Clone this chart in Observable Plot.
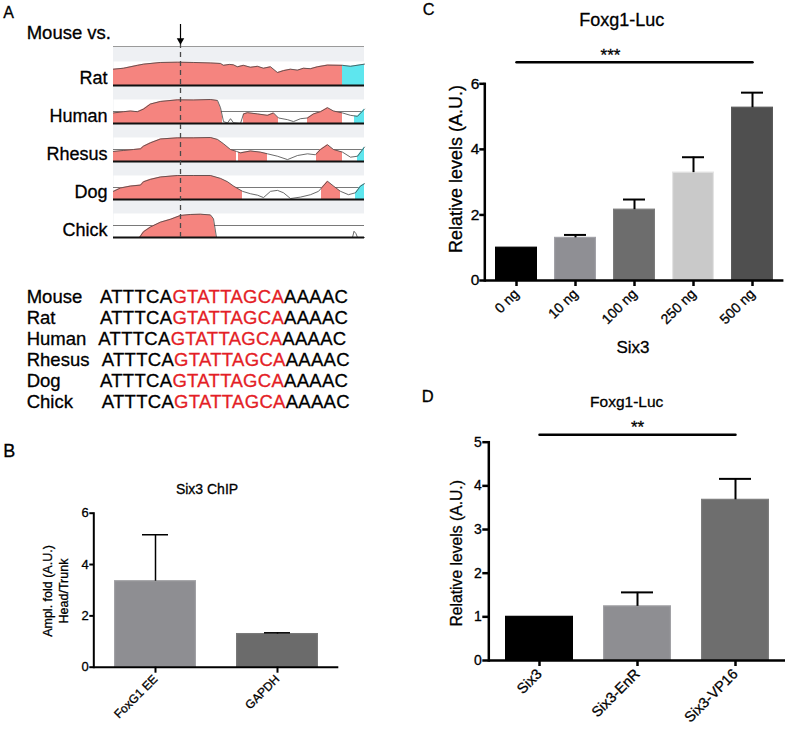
<!DOCTYPE html>
<html>
<head>
<meta charset="utf-8">
<script src="https://cdn.jsdelivr.net/npm/d3@7"></script>
<script src="https://cdn.jsdelivr.net/npm/@observablehq/plot@0.6"></script>
<style>
  body { margin: 0; background: #fff; }
  #root { position: relative; width: 793px; height: 734px; overflow: hidden; font-family: "Liberation Sans", Arial, sans-serif; }
  .abs { position: absolute; }
  .abs svg { overflow: visible; }
  #root svg text { stroke: black; stroke-width: 0.3px; }
  #root svg tspan.red { stroke: #e41e26; }
</style>
</head>
<body>
<div id="root"></div>
<script>
// ---------------- DATA ----------------
// Panel A: conservation profiles (position along region, % identity 50–100)
const trackSpecies = ["Rat", "Human", "Rhesus", "Dog", "Chick"];
const ratProfile = [[0,84],[10,86],[24,92],[30,94.5],[47,98],[64,98.6],[80,98],[97,97],[107,96],[110,92],[116,94],[120,93],[124,89],[130,92],[137,88],[144,90],[150,86],[157,89],[164,77],[170,81],[177,84],[184,82],[190,86],[197,85],[204,89],[214,92.5],[229,92],[237,90],[251,94.5]];
const humanProfile = [[0,72],[10,74.6],[17,76],[24,74.6],[30,80],[37,90.6],[47,96],[64,99.3],[80,99],[97,100],[104,98],[107,83],[110,54],[114,51],[117,60],[120,51.5],[127,50],[130,70],[134,72.5],[144,70],[154,67],[160,72],[165,61.5],[174,58],[180,54],[187,60],[194,61.5],[200,70],[207,74.6],[214,83],[220,76],[229,72],[237,67],[244,65],[251,80]];
const rhesusProfile = [[0,71],[10,73],[20,75],[27,76.4],[30,82],[37,89],[47,97],[64,99.3],[80,99.3],[97,100],[104,96],[110,87],[117,75],[123,71],[127,68],[137,72],[147,69.5],[154,66],[164,61],[174,54],[184,62.5],[194,66],[202,64],[207,75],[214,85],[220,75],[229,69.5],[237,59],[244,61],[251,80]];
const dogProfile = [[0,67],[7,74],[17,78],[27,80],[30,87],[37,92],[47,97],[64,100],[80,100],[97,100],[107,94],[114,87],[120,78],[129,67],[137,62],[144,59],[150,54],[157,67],[164,69],[170,64],[177,52],[187,55],[197,60],[205,67],[214,88],[220,78],[227,67],[235,60],[242,64],[247,78],[251,83]];
const chickProfile = [[0,50],[26,50],[30,62],[37,72],[47,82],[57,88],[67,96],[77,98],[87,98.6],[97,97],[100,89],[103,50],[239,50],[240.5,63],[242.5,58],[244,50],[251,50]];
// conserved segments: [species, kind, start, end]
const conservedSegments = [
  ["Rat","CNS",0,229],["Rat","UTR",229,251],
  ["Human","CNS",0,109],["Human","CNS",130,165],["Human","CNS",194,229],["Human","UTR",241,251],
  ["Rhesus","CNS",0,123],["Rhesus","CNS",125,154],["Rhesus","CNS",203,229],["Rhesus","UTR",244,251],
  ["Dog","CNS",0,129],["Dog","CNS",208,227],["Dog","UTR",242,251],
  ["Chick","CNS",26,103]
];
const bindingSitePos = 67;

// Panel A: alignment
const alignSpecies = ["Mouse", "Rat", "Human", "Rhesus", "Dog", "Chick"];
const seqLeft = "ATTTCA";
const seqCore = "GTATTAGCA";
const seqRight = "AAAAC";

// Panel B: Six3 ChIP
const chipTargets = ["FoxG1 EE", "GAPDH"];
const chipMean = [3.35, 1.29];
const chipErr = [1.81, 0.05];

// Panel C: dose response
const doseLabels = ["0 ng", "10 ng", "100 ng", "250 ng", "500 ng"];
const doseMean = [1.0, 1.30, 2.16, 3.29, 5.27];
const doseErr = [0, 0.09, 0.31, 0.47, 0.46];

// Panel D: constructs
const constructLabels = ["Six3", "Six3-EnR", "Six3-VP16"];
const constructMean = [1.0, 1.24, 3.68];
const constructErr = [0, 0.32, 0.48];

// ---------------- STYLE ----------------
const FONT = "Liberation Sans, Arial, Helvetica, sans-serif";
const PINK = "#f5847f", CYAN = "#5ee6ee", GREYBAND = "#eef0f3";
const chipColors = ["#8e8e92", "#6b6b6b"];
const doseColors = ["#000000", "#8f8f94", "#6d6d6d", "#c9c9c9", "#4f4f4f"];
const constructColors = ["#000000", "#8e8e92", "#6e6e6e"];

const root = document.getElementById("root");
function place(node, left, top) {
  const d = document.createElement("div");
  d.className = "abs";
  d.style.left = left + "px";
  d.style.top = top + "px";
  d.appendChild(node);
  root.appendChild(d);
  return d;
}
const baseStyle = {fontFamily: FONT, color: "black", background: "transparent", overflow: "visible"};

// ---------------- PANEL A tracks ----------------
const profiles = {Rat: ratProfile, Human: humanProfile, Rhesus: rhesusProfile, Dog: dogProfile, Chick: chickProfile};
const profileRows = trackSpecies.flatMap(s => profiles[s].map(([pos, val]) => ({species: s, pos, val})));
function interp(p, x) {
  for (let i = 1; i < p.length; i++) {
    const [x0, y0] = p[i - 1], [x1, y1] = p[i];
    if (x >= x0 && x <= x1) return x1 === x0 ? y1 : y0 + (y1 - y0) * (x - x0) / (x1 - x0);
  }
  return p[p.length - 1][1];
}
const fillRows = conservedSegments.flatMap(([s, kind, a, b], k) => {
  const p = profiles[s];
  const pts = [[a, interp(p, a)], ...p.filter(([x]) => x > a && x < b), [b, interp(p, b)]];
  return pts.map(([pos, val]) => ({species: s, kind, seg: k, pos, val}));
});

// grey background bands
const bg = document.createElement("div");
bg.className = "abs";
Object.assign(bg.style, {left: "113px", top: "46px", width: "251px", height: "192px", background: GREYBAND, borderTop: "1px solid #9a9a9a", boxSizing: "border-box"});
root.appendChild(bg);

const trackPlot = Plot.plot({
  width: 365, height: 192.5,
  marginLeft: 113, marginRight: 1, marginTop: 14, marginBottom: 1,
  x: {domain: [0, 251], axis: null},
  y: {domain: [50, 100], axis: null},
  fy: {domain: trackSpecies, paddingInner: 0.365, paddingOuter: 0},
  color: {domain: ["CNS", "UTR"], range: [PINK, CYAN]},
  style: baseStyle,
  marks: [
    Plot.frame({fill: "white", stroke: "none"}),
    Plot.ruleY([75], {stroke: "#6a6a6a", strokeWidth: 0.9}),
    Plot.area(fillRows, {x1: "pos", y1: 50, y2: "val", z: "seg", fill: "kind", fy: "species"}),
    Plot.line(profileRows, {x: "pos", y: "val", fy: "species", stroke: "#444", strokeWidth: 0.8}),
    Plot.ruleY([50], {stroke: "#111", strokeWidth: 2}),
    Plot.axisFy({anchor: "left", tickSize: 0, tickPadding: 6, fontSize: 18, dy: 5, label: null, fill: "black"})
  ]
});
place(trackPlot, 0, 46);

// dashed line through tracks
const dashPlot = Plot.plot({
  width: 365, height: 195.5,
  marginLeft: 113, marginRight: 1, marginTop: 0, marginBottom: 1,
  x: {domain: [0, 251], axis: null},
  style: baseStyle,
  marks: [Plot.ruleX([bindingSitePos], {stroke: "#4a4a4a", strokeWidth: 1.3, strokeDasharray: "5,4"})]
});
place(dashPlot, 0, 43);

// arrow
const arrowPlot = Plot.plot({
  width: 365, height: 19,
  marginLeft: 113, marginRight: 1, marginTop: 0, marginBottom: 0,
  x: {domain: [0, 251], axis: null},
  style: baseStyle,
  marks: [
    Plot.ruleX([bindingSitePos], {stroke: "black", strokeWidth: 1.2}),
    Plot.dot([bindingSitePos], {x: d => d, frameAnchor: "bottom", symbol: "triangle", rotate: 180, r: 2.8, fill: "black", stroke: "none", dy: -3})
  ]
});
place(arrowPlot, 0, 24);

// ---------------- Bar charts ----------------
function barChart(o) {
  const rows = o.labels.map((l, i) => ({label: l, mean: o.means[i], err: o.errs[i], color: o.colors[i], edge: d3.color(o.colors[i]).brighter(0.35).formatHex()}));
  const withErr = rows.filter(r => r.err > 0);
  return Plot.plot({
    width: o.width, height: o.height,
    marginLeft: o.ml, marginRight: o.mr, marginTop: o.mt, marginBottom: o.mb,
    x: {domain: o.labels, paddingInner: o.padIn, paddingOuter: o.padOut},
    y: {domain: o.yDomain},
    color: {type: "identity"},
    style: baseStyle,
    marks: [
      Plot.barY(rows, {x: "label", y: "mean", fill: "color", stroke: "edge", strokeWidth: 1.2, insetLeft: 0.6, insetRight: 0.6}),
      Plot.ruleX(withErr, {x: "label", y1: "mean", y2: d => d.mean + d.err, stroke: "black", strokeWidth: o.errW}),
      Plot.tickY(withErr, {x: "label", y: d => d.mean + d.err, stroke: "black", strokeWidth: o.errW, insetLeft: o.capInset, insetRight: o.capInset}),
      Plot.ruleY([0], {stroke: "black", strokeWidth: o.axisW}),
      Plot.frame({anchor: "left", stroke: "black", strokeWidth: o.axisW}),
      Plot.axisY({ticks: o.yTicks, tickFormat: d => String(d), tickSize: o.tickSize, tickPadding: o.tickPad, fontSize: o.tickFont, strokeWidth: o.axisW, label: null, fill: "black"}),
      Plot.axisX({tickSize: o.xTickSize, tickPadding: o.xTickPad, tickRotate: -45, fontSize: o.xFont, strokeWidth: o.axisW, label: null, fill: "black"}),
      ...(o.extra || [])
    ]
  });
}

// Panel B
place(barChart({
  labels: chipTargets, means: chipMean, errs: chipErr, colors: chipColors,
  width: 350, height: 234, ml: 93.3, mr: 11.7, mt: 12.7, mb: 67.3,
  padIn: 0.326, padOut: 0.164, yDomain: [0, 6], yTicks: [0, 2, 4, 6],
  capInset: 28, errW: 1.5, axisW: 2, tickSize: 4, tickPad: 1, tickFont: 13,
  xTickSize: 6, xTickPad: 4, xFont: 12
}), 0, 500);

// Panel C
const sigC = [{x: "0 ng", y: 6.66}, {x: "500 ng", y: 6.66}];
const starsC = [{x: "100 ng", y: 6.66, t: "***"}];
place(barChart({
  labels: doseLabels, means: doseMean, errs: doseErr, colors: doseColors,
  width: 393, height: 375, ml: 84.3, mr: 9.6, mt: 83.3, mb: 95,
  padIn: 0.293, padOut: 0.18, yDomain: [0, 6], yTicks: [0, 2, 4, 6],
  capInset: 10, errW: 2, axisW: 2.5, tickSize: 5, tickPad: 0.5, tickFont: 15.5,
  xTickSize: 6, xTickPad: 5, xFont: 14,
  extra: [
    Plot.line(sigC, {x: "x", y: "y", stroke: "black", strokeWidth: 2.5}),
    Plot.text(starsC, {x: "x", y: "y", text: "t", dx: -24, dy: -1, lineAnchor: "bottom", fontSize: 17, fill: "black"})
  ]
}), 400, 0);

// Panel D
const sigD = [{x: "Six3", y: 5.17}, {x: "Six3-VP16", y: 5.17}];
const starsD = [{x: "Six3-EnR", y: 5.17, t: "**"}];
place(barChart({
  labels: constructLabels, means: constructMean, errs: constructErr, colors: constructColors,
  width: 393, height: 354, ml: 88.3, mr: 8, mt: 61.7, mb: 74,
  padIn: 0.308, padOut: 0.163, yDomain: [0, 5], yTicks: [0, 1, 2, 3, 4, 5],
  capInset: 18, errW: 2, axisW: 2.5, tickSize: 6, tickPad: 1, tickFont: 14,
  xTickSize: 6, xTickPad: 5, xFont: 14.5,
  extra: [
    Plot.line(sigD, {x: "x", y: "y", stroke: "black", strokeWidth: 2.5}),
    Plot.text(starsD, {x: "x", y: "y", text: "t", dy: -2, lineAnchor: "bottom", fontSize: 17, fill: "black"})
  ]
}), 400, 380);

// ---------------- Text overlay ----------------
const svg = d3.select(root).append("svg")
  .attr("width", 793).attr("height", 734)
  .style("position", "absolute").style("left", 0).style("top", 0)
  .style("pointer-events", "none").style("font-family", FONT);

function txt(t, x, y, size, opts = {}) {
  const e = svg.append("text").attr("x", x).attr("y", y).attr("font-size", size)
    .attr("fill", opts.fill || "black").attr("text-anchor", opts.anchor || "start").text(t);
  if (opts.rotate) e.attr("transform", `rotate(${opts.rotate},${x},${y})`);
  return e;
}
// panel letters
txt("A", 3.3, 18.3, 16);
txt("B", 3.3, 456.7, 18);
txt("C", 422.7, 15, 16.3);
txt("D", 421.7, 401.7, 16.5);

txt("Mouse vs.", 26.7, 39.3, 18.5);

// alignment
const seqX = [100, 100, 98.3, 101.7, 100, 101.7];
alignSpecies.forEach((s, i) => {
  const y = 303.3 + i * 21;
  txt(s, 26.7, y, 18.5);
  const t = svg.append("text").attr("x", seqX[i]).attr("y", y).attr("font-size", 18.5).attr("letter-spacing", 0.3);
  t.append("tspan").attr("fill", "black").text(seqLeft);
  t.append("tspan").attr("class", "red").attr("fill", "#e41e26").text(seqCore);
  t.append("tspan").attr("fill", "black").text(seqRight);
});

// Panel B labels
txt("Six3 ChIP", 207, 494, 14, {anchor: "middle"});
txt("Ampl. fold (A.U.)", 52.4, 591, 12.5, {anchor: "middle", rotate: -90});
txt("Head/Trunk", 67.5, 591, 12.5, {anchor: "middle", rotate: -90});

// Panel C labels
txt("Foxg1-Luc", 621.7, 25.7, 18, {anchor: "middle"});
txt("Relative levels (A.U.)", 461.5, 169, 18, {anchor: "middle", rotate: -90});
txt("Six3", 633, 353, 17, {anchor: "middle"});

// Panel D labels
txt("Foxg1-Luc", 626.7, 406.7, 15.5, {anchor: "middle"});
txt("Relative levels (A.U.)", 461.7, 553.3, 15.7, {anchor: "middle", rotate: -90});
</script>
</body>
</html>
